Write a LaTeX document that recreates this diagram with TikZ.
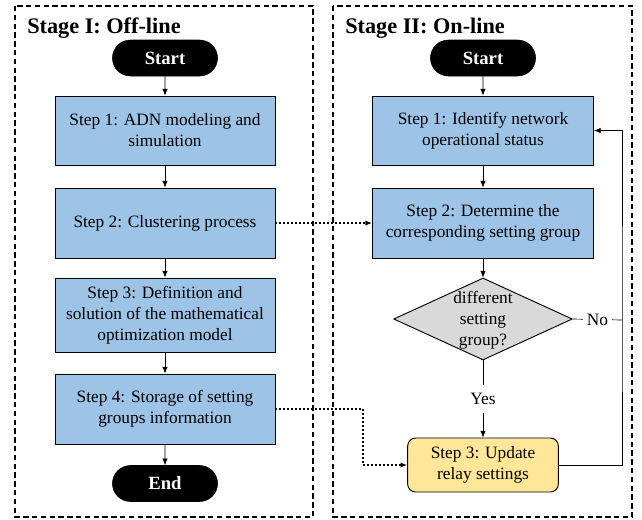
\documentclass[tikz,border=0pt]{standalone}
\usepackage{fontspec}
\setmainfont{Liberation Serif}
\usetikzlibrary{shapes.geometric,shapes.misc,arrows.meta}
\definecolor{stepblue}{HTML}{9DC3E6}
\definecolor{stepyellow}{HTML}{FFE699}
\definecolor{decgray}{HTML}{D9D9D9}

\begin{document}
\begin{tikzpicture}[x=0.75pt, y=-0.75pt,
    stagebox/.style={draw, line width=1.1pt, dash pattern=on 4pt off 2.6pt},
    stagetitle/.style={anchor=base west, inner sep=0pt, font=\fontsize{16.7}{20}\selectfont\bfseries},
    terminal/.style={draw, fill=black, rounded rectangle, minimum width=85.5pt, minimum height=27pt, text=white, font=\fontsize{14}{16}\selectfont\bfseries},
    stepbox/.style={draw, line width=0.7pt, fill=stepblue, minimum width=165pt, align=center, font=\fontsize{13}{15.75}\selectfont},
    updatebox/.style={draw, line width=0.7pt, fill=stepyellow, rounded corners=6pt, minimum width=113pt, minimum height=40.5pt, align=center, font=\fontsize{13}{15.75}\selectfont},
    decision/.style={draw, line width=0.7pt, fill=decgray, diamond, minimum width=134pt, minimum height=61.5pt, inner sep=0pt},
    labeltext/.style={align=center, font=\fontsize{13}{15.75}\selectfont},
    flow/.style={-{Latex[length=5pt,width=4pt]}, line width=0.5pt},
    link/.style={-{Latex[length=5pt,width=4pt]}, dotted, line width=1pt}
]
\useasboundingbox (0,0) rectangle (642,519);

% Stage frames
\draw[stagebox] (15,6) rectangle (313,517);
\draw[stagebox] (333,6) rectangle (632,517);
\node[stagetitle] (offtitle) at (27,33) {Stage I: Off-line};
\node[stagetitle] (ontitle) at (345,33) {Stage II: On-line};

% Stage I: off-line
\node[terminal] (lstart) at (165,58) {Start};
\node[stepbox, minimum height=51.75pt] (lstep1) at (165,130.5) {Step 1: ADN modeling and\\simulation};
\node[stepbox, minimum height=52.5pt] (lstep2) at (165,223) {Step 2: Clustering process};
\node[stepbox, minimum height=55.5pt] (lstep3) at (165,315) {Step 3: Definition and\\solution of the mathematical\\optimization model};
\node[stepbox, minimum height=52.5pt] (lstep4) at (165,409) {Step 4: Storage of setting\\groups information};
\node[terminal] (lend) at (165,483.5) {End};

\draw[flow] (lstart) -- (lstep1);
\draw[flow] (lstep1) -- (lstep2);
\draw[flow] (lstep2) -- (lstep3);
\draw[flow] (lstep3) -- (lstep4);
\draw[flow] (lstep4) -- (lend);

% Stage II: on-line
\node[terminal] (ostart) at (483,58) {Start};
\node[stepbox, minimum width=165.75pt, minimum height=51.75pt] (ostep1) at (483,130.5) {Step 1: Identify network\\operational status};
\node[stepbox, minimum width=165.75pt, minimum height=52.5pt] (ostep2) at (483,223) {Step 2: Determine the\\corresponding setting group};
\node[decision] (dec) at (483,319) {};
\node[labeltext] (dectext) at (483,320) {different\\setting\\group?};
\node[updatebox] (ostep3) at (483,465) {Step 3: Update\\relay settings};

\draw[flow] (ostart) -- (ostep1);
\draw[flow] (ostep1) -- (ostep2);
\draw[flow] (ostep2) -- (dec);
\draw[flow] (dec) -- node[labeltext, fill=white, inner sep=6pt] {Yes} (ostep3);

% loop back
\coordinate (nojoin) at (622,320);
\draw[line width=0.5pt] (dec.east) -- node[labeltext, fill=white, inner sep=3pt] {No} (nojoin);
\draw[flow] (ostep3.east) -| (nojoin) |- (ostep1.east);

% links between stages
\coordinate (bend) at (363,409);
\draw[link] (lstep2) -- (ostep2);
\draw[link] (lstep4.east) -- (bend) |- (ostep3.west);

\end{tikzpicture}
\end{document}
